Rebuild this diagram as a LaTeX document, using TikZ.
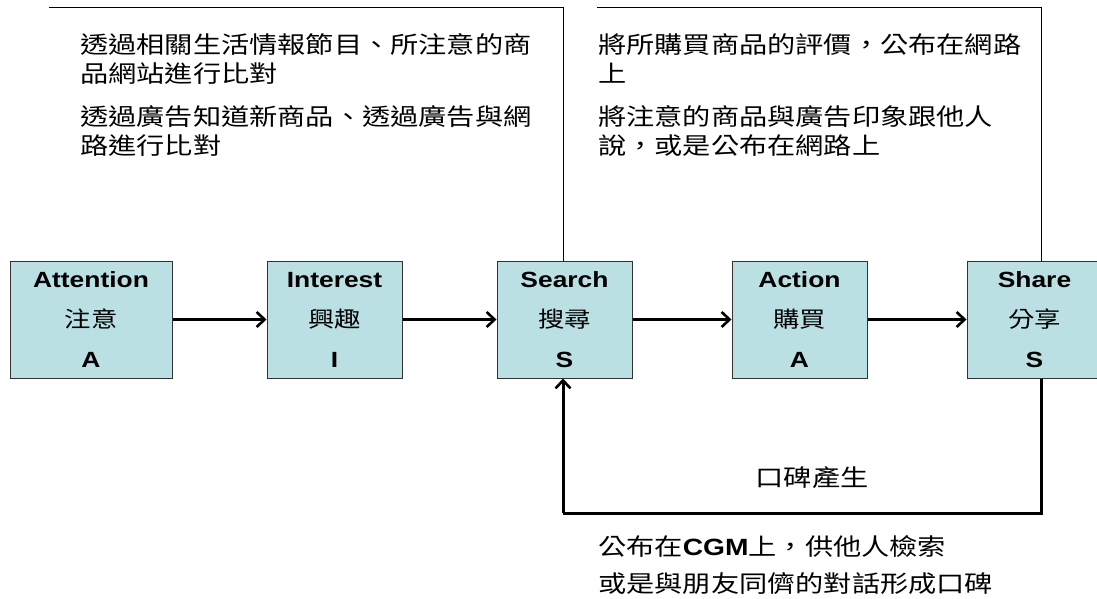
\documentclass[tikz,border=0pt]{standalone}
\usepackage{fontspec}
\usetikzlibrary{arrows.meta}
\newfontfamily\latf[FakeStretch=1.2]{Liberation Sans}
\newfontfamily\cjkf[FakeStretch=1.2]{Noto Sans CJK TC}
\definecolor{boxfill}{RGB}{187,224,227}
\definecolor{boxline}{RGB}{50,50,50}
\tikzset{
  stagebox/.style={draw=boxline, line width=1pt, fill=boxfill, minimum height=117pt,
    inner sep=0pt, align=center, font=\fontsize{22}{40}\selectfont},
  conn/.style={line width=3pt, -{Straight Barb[length=8pt,width=15pt,line width=2.6pt]}},
  loopline/.style={line width=3pt, line join=miter},
  frameline/.style={line width=1pt},
  note/.style={anchor=base west, inner sep=0pt, font=\cjkf\fontsize{23.5}{29}\selectfont},
}
\newcommand{\en}[1]{{\latf\bfseries #1}}
\newcommand{\zh}[1]{{\cjkf #1}}
\begin{document}
\begin{tikzpicture}[x=1pt,y=-1pt]
\useasboundingbox (0,0) rectangle (1097,599);
% stage boxes
\node[stagebox, minimum width=162pt] (att) at (91,319.5) {\en{Attention}\\\zh{注意}\\\en{A}};
\node[stagebox, minimum width=135pt] (int) at (334.5,319.5) {\en{Interest}\\\zh{興趣}\\\en{I}};
\node[stagebox, minimum width=135pt] (sea) at (564.5,319.5) {\en{Search}\\\zh{搜尋}\\\en{S}};
\node[stagebox, minimum width=135pt] (act) at (799.5,319.5) {\en{Action}\\\zh{購買}\\\en{A}};
\node[stagebox, minimum width=135pt] (sha) at (1034.5,319.5) {\en{Share}\\\zh{分享}\\\en{S}};
% arrows between stages
\draw[conn] (att) -- (int);
\draw[conn] (int) -- (sea);
\draw[conn] (sea) -- (act);
\draw[conn] (act) -- (sha);
% top frames
\coordinate (f1a) at (49,8);
\coordinate (f1b) at (563,8);
\draw[frameline] (f1a) -- (f1b) -- (sea.north -| f1b);
\coordinate (f2a) at (597,8);
\coordinate (f2b) at (1041,8);
\draw[frameline] (f2a) -- (f2b) -- (sha.north -| f2b);
% notes top-left
\node[note] (n1a) at (80,54) {透過相關生活情報節目、所注意的商};
\node[note] (n1b) at (80,83) {品網站進行比對};
\node[note] (n1c) at (80,125) {透過廣告知道新商品、透過廣告與網};
\node[note] (n1d) at (80,154) {路進行比對};
% notes top-right
\node[note] (n2a) at (598,54) {將所購買商品的評價，公布在網路};
\node[note] (n2b) at (598,83) {上};
\node[note] (n2c) at (598,125) {將注意的商品與廣告印象跟他人};
\node[note] (n2d) at (598,154) {說，或是公布在網路上};
% feedback loop
\coordinate (lr) at (1041,513);
\coordinate (ll) at (563,513);
\draw[loopline] (sha.south -| lr) -- (lr) -- (ll);
\draw[conn] (ll) -- (sea.south -| ll);
\node[note, anchor=base] (wom) at (812,486) {口碑產生};
\node[note] (b1) at (598,555) {公布在\en{CGM}上，供他人檢索};
\node[note] (b2) at (598,592) {或是與朋友同儕的對話形成口碑};
\end{tikzpicture}
\end{document}
